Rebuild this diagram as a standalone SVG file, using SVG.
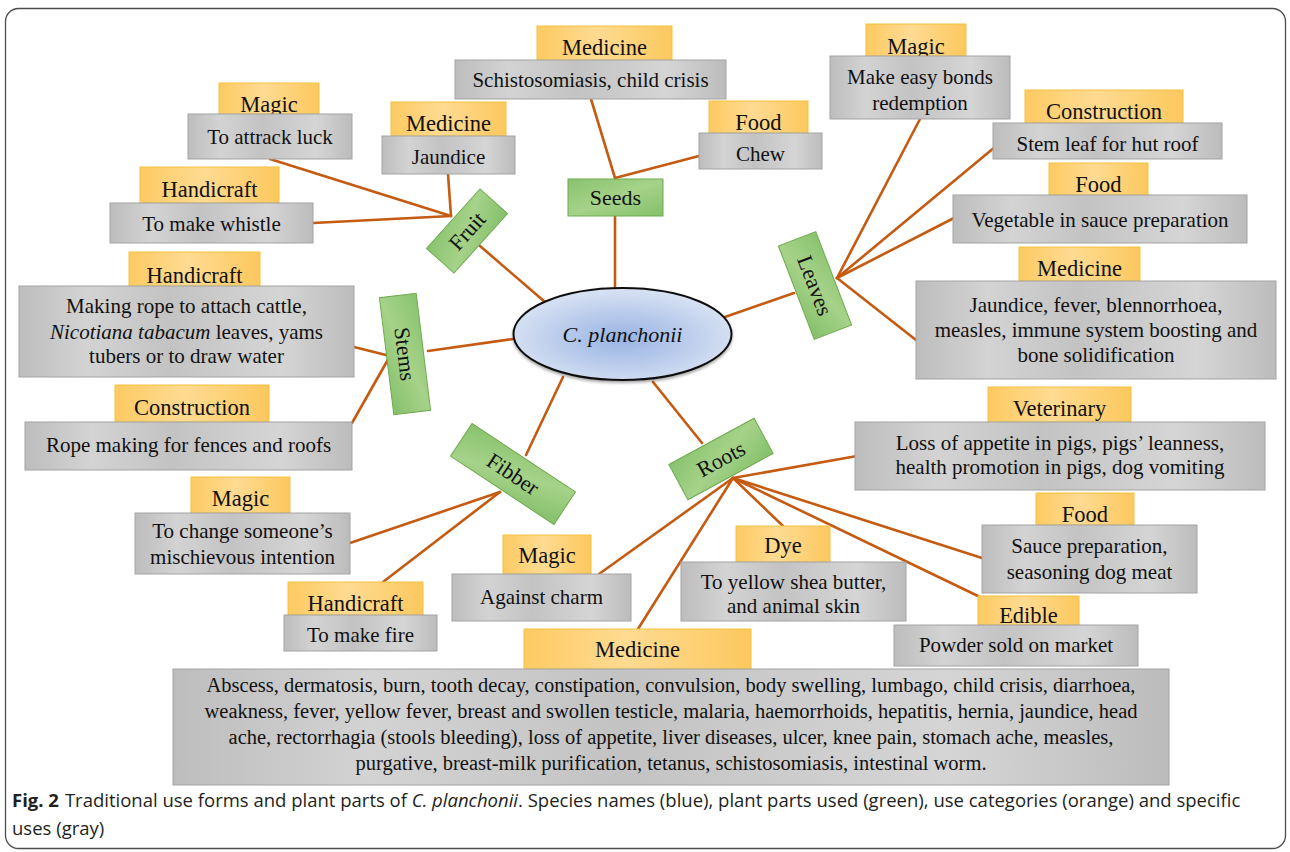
<svg xmlns="http://www.w3.org/2000/svg" width="1290" height="852" viewBox="0 0 1290 852">
<defs>
<linearGradient id="gGray" x1="0" y1="0" x2="1" y2="0">
<stop offset="0" stop-color="#bdbdbd"/><stop offset="0.2" stop-color="#d3d3d3"/><stop offset="0.45" stop-color="#c3c3c3"/><stop offset="0.78" stop-color="#d5d5d5"/><stop offset="1" stop-color="#bcbcbc"/>
</linearGradient>
<linearGradient id="gOrange" x1="0" y1="0" x2="1" y2="0">
<stop offset="0" stop-color="#fdca62"/><stop offset="0.45" stop-color="#fedb92"/><stop offset="1" stop-color="#fcc85e"/>
</linearGradient>
<linearGradient id="gGreen" x1="0" y1="0" x2="1" y2="1">
<stop offset="0" stop-color="#88c36e"/><stop offset="0.5" stop-color="#a6d289"/><stop offset="1" stop-color="#84c06a"/>
</linearGradient>
<radialGradient id="gBlue" cx="0.5" cy="0.55" r="0.6">
<stop offset="0" stop-color="#98b3e3"/><stop offset="1" stop-color="#dfe7f5"/>
</radialGradient>
<filter id="sh" x="-10%" y="-10%" width="120%" height="130%">
<feDropShadow dx="0" dy="2" stdDeviation="1.5" flood-color="#000" flood-opacity="0.35"/>
</filter>
</defs>
<style>
.o{fill:url(#gOrange);stroke:#f3c23f;stroke-width:1}
.g{fill:url(#gGray);stroke:#a3a3a3;stroke-width:1}
.p{fill:url(#gGreen);stroke:#6fab4e;stroke-width:1}
.t{font-family:"Liberation Serif","Times New Roman",serif;font-size:21px;fill:#111;text-anchor:middle}
.tc{font-family:"Liberation Serif","Times New Roman",serif;font-size:22.5px;fill:#111;text-anchor:middle}
.c{stroke:#c55a11;stroke-width:2.6;fill:none;stroke-linecap:round}
.cap{font-family:"Open Sans","Noto Sans",sans-serif;font-size:18.5px;fill:#231f20}
</style>
<rect x="5.5" y="8.5" width="1280" height="840" rx="13" fill="#fff" stroke="#4d4d4d" stroke-width="1.3"/>
<g id="connectors">
<line class="c" x1="480" y1="246" x2="545" y2="302"/>
<line class="c" x1="615" y1="216" x2="615" y2="288"/>
<line class="c" x1="428" y1="351" x2="513" y2="339"/>
<line class="c" x1="725" y1="317" x2="794" y2="293"/>
<line class="c" x1="563" y1="377" x2="526" y2="455"/>
<line class="c" x1="653" y1="382" x2="702" y2="443"/>
<line class="c" x1="451" y1="216" x2="270" y2="159"/>
<line class="c" x1="451" y1="216" x2="313" y2="223"/>
<line class="c" x1="451" y1="216" x2="448" y2="174"/>
<line class="c" x1="615" y1="178" x2="591" y2="99"/>
<line class="c" x1="615" y1="178" x2="699" y2="156"/>
<line class="c" x1="390" y1="356" x2="354" y2="347"/>
<line class="c" x1="390" y1="356" x2="352" y2="423"/>
<line class="c" x1="837" y1="278" x2="920" y2="119"/>
<line class="c" x1="837" y1="278" x2="995" y2="147"/>
<line class="c" x1="837" y1="278" x2="954" y2="218"/>
<line class="c" x1="837" y1="278" x2="916" y2="340"/>
<line class="c" x1="500" y1="492" x2="350" y2="543"/>
<line class="c" x1="500" y1="492" x2="383" y2="582"/>
<line class="c" x1="733" y1="478" x2="857" y2="456"/>
<line class="c" x1="733" y1="478" x2="599" y2="574"/>
<line class="c" x1="733" y1="478" x2="638" y2="629"/>
<line class="c" x1="733" y1="478" x2="783" y2="526"/>
<line class="c" x1="733" y1="478" x2="982" y2="558"/>
<line class="c" x1="733" y1="478" x2="978" y2="596"/>
</g>
<g id="species">
<ellipse cx="622.5" cy="334" rx="109" ry="46" fill="url(#gBlue)" stroke="#111" stroke-width="2" filter="url(#sh)"/>
<text x="622.5" y="342" class="t" style="font-size:22px;font-style:italic">C. planchonii</text>
</g>
<g id="part-seeds"><rect class="p" x="568" y="179" width="95" height="37"/><text class="tc" x="615.5" y="205" style="font-size:22px">Seeds</text></g>
<g id="part-fruit" transform="translate(467,231) rotate(-48)"><rect class="p" x="-40" y="-18.5" width="80" height="37"/><text class="tc" x="0" y="7.5" style="font-size:22px">Fruit</text></g>
<g id="part-stems" transform="translate(405,354) rotate(83)"><rect class="p" x="-59" y="-18.5" width="118" height="37"/><text class="tc" x="0" y="7.5" style="font-size:22px">Stems</text></g>
<g id="part-leaves" transform="translate(815,285.5) rotate(69)"><rect class="p" x="-50" y="-20" width="100" height="40"/><text class="tc" x="0" y="7.5" style="font-size:22px">Leaves</text></g>
<g id="part-fibber" transform="translate(513,474) rotate(33.5)"><rect class="p" x="-62" y="-19.5" width="124" height="39"/><text class="tc" x="0" y="7.5" style="font-size:22px">Fibber</text></g>
<g id="part-roots" transform="translate(721,459) rotate(-28.5)"><rect class="p" x="-48.5" y="-20" width="97" height="40"/><text class="tc" x="0" y="7.5" style="font-size:22px">Roots</text></g>

<g id="fruit-magic"><rect class="o" x="219" y="83" width="100" height="31"/><text class="tc" x="269" y="112">Magic</text><rect class="g" x="188" y="114" width="164" height="45"/><text class="t" x="270" y="144">To attrack luck</text></g>
<g id="fruit-handicraft"><rect class="o" x="140" y="167" width="139" height="36"/><text class="tc" x="209.5" y="197">Handicraft</text><rect class="g" x="110" y="203" width="203" height="40"/><text class="t" x="211.5" y="231">To make whistle</text></g>
<g id="fruit-medicine"><rect class="o" x="391" y="102" width="115" height="34"/><text class="tc" x="448.5" y="130.5">Medicine</text><rect class="g" x="382" y="136" width="133" height="38"/><text class="t" x="448.5" y="164">Jaundice</text></g>
<g id="seeds-medicine"><rect class="o" x="537" y="26" width="135" height="34"/><text class="tc" x="604.5" y="55">Medicine</text><rect class="g" x="455" y="60" width="271" height="39"/><text class="t" x="590.5" y="87">Schistosomiasis, child crisis</text></g>
<g id="seeds-food"><rect class="o" x="709" y="101" width="99" height="32"/><text class="tc" x="758.5" y="130">Food</text><rect class="g" x="699" y="133" width="123" height="36"/><text class="t" x="760.5" y="161">Chew</text></g>
<g id="leaves-magic"><rect class="o" x="866" y="24" width="100" height="32"/><text class="tc" x="916" y="54">Magic</text><rect class="g" x="830" y="56" width="180" height="63"/><text class="t" x="920" y="84">Make easy bonds</text><text class="t" x="920" y="110">redemption</text></g>
<g id="leaves-construction"><rect class="o" x="1025" y="90" width="158" height="33"/><text class="tc" x="1104" y="119">Construction</text><rect class="g" x="993" y="123" width="229" height="36"/><text class="t" x="1107.5" y="151">Stem leaf for hut roof</text></g>
<g id="leaves-food"><rect class="o" x="1049" y="163" width="99" height="32"/><text class="tc" x="1098.5" y="192">Food</text><rect class="g" x="953" y="195" width="294" height="48"/><text class="t" x="1100" y="227">Vegetable in sauce preparation</text></g>
<g id="leaves-medicine"><rect class="o" x="1019" y="247" width="121" height="34"/><text class="tc" x="1079.5" y="276">Medicine</text><rect class="g" x="916" y="281" width="360" height="98"/><text class="t" x="1096" y="312">Jaundice, fever, blennorrhoea,</text><text class="t" x="1096" y="337">measles, immune system boosting and</text><text class="t" x="1096" y="362">bone solidification</text></g>
<g id="stems-handicraft"><rect class="o" x="129" y="252" width="131" height="34"/><text class="tc" x="194.5" y="283">Handicraft</text><rect class="g" x="19" y="286" width="335" height="91"/><text class="t" x="186.5" y="313">Making rope to attach cattle,</text><text class="t" x="186.5" y="339"><tspan font-style="italic">Nicotiana tabacum</tspan> leaves, yams</text><text class="t" x="186.5" y="363">tubers or to draw water</text></g>
<g id="stems-construction"><rect class="o" x="115" y="385" width="154" height="37"/><text class="tc" x="192" y="415">Construction</text><rect class="g" x="25" y="422" width="327" height="48"/><text class="t" x="188.5" y="452">Rope making for fences and roofs</text></g>
<g id="fibber-magic"><rect class="o" x="191" y="477" width="99" height="36"/><text class="tc" x="240.5" y="506">Magic</text><rect class="g" x="135" y="513" width="215" height="61"/><text class="t" x="242.5" y="538">To change someone’s</text><text class="t" x="242.5" y="564">mischievous intention</text></g>
<g id="fibber-handicraft"><rect class="o" x="288" y="582" width="135" height="33"/><text class="tc" x="355.5" y="611">Handicraft</text><rect class="g" x="284" y="615" width="153" height="36"/><text class="t" x="360.5" y="642">To make fire</text></g>
<g id="roots-magic"><rect class="o" x="503" y="535" width="88" height="39"/><text class="tc" x="547" y="563">Magic</text><rect class="g" x="452" y="574" width="179" height="47"/><text class="t" x="541.5" y="604">Against charm</text></g>
<g id="roots-dye"><rect class="o" x="736" y="526" width="94" height="36"/><text class="tc" x="783" y="553">Dye</text><rect class="g" x="681" y="562" width="225" height="59"/><text class="t" x="793.5" y="589">To yellow shea butter,</text><text class="t" x="793.5" y="613">and animal skin</text></g>
<g id="roots-veterinary"><rect class="o" x="988" y="387" width="143" height="35"/><text class="tc" x="1059.5" y="415.5">Veterinary</text><rect class="g" x="855" y="422" width="410" height="68"/><text class="t" x="1060" y="450">Loss of appetite in pigs, pigs’ leanness,</text><text class="t" x="1060" y="474">health promotion in pigs, dog vomiting</text></g>
<g id="roots-food"><rect class="o" x="1036" y="493" width="98" height="32"/><text class="tc" x="1085" y="521.5">Food</text><rect class="g" x="982" y="525" width="215" height="68"/><text class="t" x="1089.5" y="553">Sauce preparation,</text><text class="t" x="1089.5" y="579">seasoning dog meat</text></g>
<g id="roots-edible"><rect class="o" x="978" y="596" width="101" height="29"/><text class="tc" x="1028.5" y="623">Edible</text><rect class="g" x="894" y="625" width="244" height="41"/><text class="t" x="1016" y="652">Powder sold on market</text></g>
<g id="roots-medicine"><rect class="o" x="524" y="629" width="227" height="40"/><text class="tc" x="637.5" y="657">Medicine</text><rect class="g" x="173" y="669" width="996" height="116"/>
<text class="t" x="671" y="692" style="font-size:20.5px">Abscess, dermatosis, burn, tooth decay, constipation, convulsion, body swelling, lumbago, child crisis, diarrhoea,</text>
<text class="t" x="671" y="718" style="font-size:20.5px">weakness, fever, yellow fever, breast and swollen testicle, malaria, haemorrhoids, hepatitis, hernia, jaundice, head</text>
<text class="t" x="671" y="744" style="font-size:20.5px">ache, rectorrhagia (stools bleeding), loss of appetite, liver diseases, ulcer, knee pain, stomach ache, measles,</text>
<text class="t" x="671" y="770" style="font-size:20.5px">purgative, breast-milk purification, tetanus, schistosomiasis, intestinal worm.</text>
</g>
<g id="caption">
<text class="cap" x="12" y="807"><tspan font-weight="bold">Fig. 2</tspan><tspan dx="6">Traditional use forms and plant parts of </tspan><tspan font-style="italic">C. planchonii</tspan>. Species names (blue), plant parts used (green), use categories (orange) and specific</text>
<text class="cap" x="12" y="835">uses (gray)</text>
</g>
</svg>
